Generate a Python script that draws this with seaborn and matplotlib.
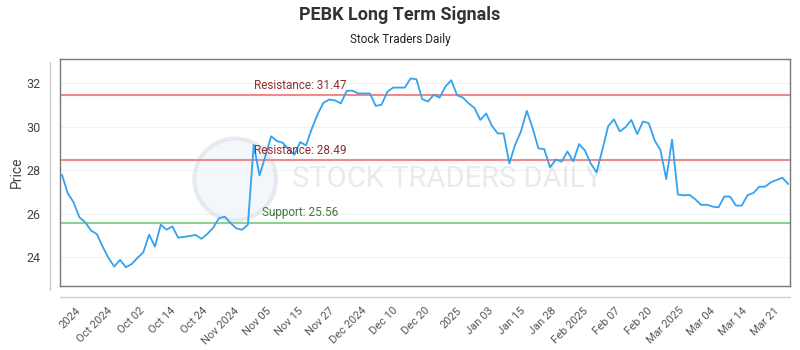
import numpy as np
import pandas as pd
import matplotlib
matplotlib.use("Agg")
import matplotlib.pyplot as plt
import seaborn as sns
from matplotlib.lines import Line2D
from matplotlib.patches import Ellipse

title = "PEBK Long Term Signals"
subtitle = "Stock Traders Daily"

prices = [
    27.80, 26.94, 26.53, 25.84, 25.61, 25.23, 25.07, 24.49, 23.97, 23.57,
    23.88, 23.54, 23.69, 23.97, 24.23, 25.04, 24.49, 25.50, 25.27, 25.42,
    24.90, 24.94, 24.98, 25.03, 24.85, 25.07, 25.35, 25.79, 25.87, 25.58,
    25.33, 25.27, 25.50, 29.18, 27.77, 28.65, 29.57, 29.35, 29.27, 28.98,
    28.72, 29.30, 29.15, 29.92, 30.59, 31.11, 31.26, 31.22, 31.08, 31.66,
    31.67, 31.54, 31.54, 31.54, 30.97, 31.02, 31.62, 31.81, 31.81, 31.81,
    32.23, 32.20, 31.28, 31.17, 31.48, 31.35, 31.86, 32.15, 31.46, 31.35,
    31.08, 30.87, 30.32, 30.62, 30.05, 29.70, 29.70, 28.32, 29.18, 29.80,
    30.74, 29.95, 29.01, 28.98, 28.14, 28.50, 28.40, 28.87, 28.41, 29.21,
    28.92, 28.32, 27.91, 28.94, 30.03, 30.35, 29.79, 29.99, 30.32, 29.67,
    30.25, 30.17, 29.38, 28.94, 27.60, 29.41, 26.89, 26.85, 26.87, 26.67,
    26.41, 26.42, 26.33, 26.30, 26.80, 26.79, 26.38, 26.38, 26.86, 26.96,
    27.25, 27.25, 27.45, 27.56, 27.66, 27.37,
]

tick_labels = [
    "2024", "Oct 2024", "Oct 02", "Oct 14", "Oct 24", "Nov 2024", "Nov 05",
    "Nov 15", "Nov 27", "Dec 2024", "Dec 10", "Dec 20", "2025", "Jan 03",
    "Jan 15", "Jan 28", "Feb 2025", "Feb 07", "Feb 20", "Mar 2025", "Mar 04",
    "Mar 14", "Mar 21",
]

resistance_levels = [31.47, 28.49]
support_levels = [25.56]
y_ticks = [24, 26, 28, 30, 32]

df = pd.DataFrame({"idx": np.arange(len(prices)), "price": prices})

sns.set_theme(style="white")
plt.rcParams["font.family"] = ["Roboto", "DejaVu Sans"]

fig = plt.figure(figsize=(8, 3.5), dpi=100)
ax = fig.add_axes([0.075, 0.183, 0.9125, 0.648])

# gridlines
for yt in y_ticks:
    ax.axhline(yt, color="#f2f2f2", lw=0.8, zorder=0)

# watermark
ax.text(0.53, 0.47, "STOCK TRADERS DAILY", transform=ax.transAxes,
        ha="center", va="center", fontsize=21,
        color="#dde3ea", alpha=0.7, zorder=0.5)
wm = Ellipse((0.24, 0.47), 0.112, 0.36, transform=ax.transAxes,
             facecolor="#eef2f6", edgecolor="#d8e0e9", lw=3, alpha=0.6, zorder=0.5)
ax.add_patch(wm)

for lvl in resistance_levels:
    ax.axhline(lvl, color="#f08a8a", lw=1.5, zorder=1)
    ax.annotate(f"Resistance: {lvl:.2f}", xy=(33, lvl), xytext=(0, 2),
                textcoords="offset points", ha="left", va="bottom",
                fontsize=8.5, color="#8e3030", zorder=3)
for lvl in support_levels:
    ax.axhline(lvl, color="#8fcf8f", lw=1.5, zorder=1)
    ax.annotate(f"Support: {lvl:.2f}", xy=(34.4, lvl), xytext=(0, 3),
                textcoords="offset points", ha="left", va="bottom",
                fontsize=8.5, color="#3e7a3e", zorder=3)

sns.lineplot(data=df, x="idx", y="price", ax=ax, color="#34a2ee", lw=1.3, zorder=2)

ax.set_xlim(-0.34, 125.3)
ax.set_ylim(22.68, 33.12)
ax.set_yticks(y_ticks)
ax.set_yticklabels([str(v) for v in y_ticks], fontsize=9, color="#444444")
tick_pos = np.linspace(2.3, 122.5, len(tick_labels))
ax.set_xticks(tick_pos)
ax.set_xticklabels(tick_labels, rotation=45, ha="right", va="top",
                   rotation_mode="anchor", fontsize=8, color="#555555")
ax.tick_params(axis="x", pad=14, length=0)
ax.tick_params(axis="y", pad=14, length=0)
ax.set_xlabel("")
ax.set_ylabel("Price", fontsize=10, color="#444444", labelpad=2)

for s in ax.spines.values():
    s.set_visible(True)
    s.set_color("#777777")
    s.set_linewidth(1.0)

# offset axis lines
fig.add_artist(Line2D([50/800, 50/800], [1-62/350, 1-290/350],
                      transform=fig.transFigure, color="#cccccc", lw=1))
fig.add_artist(Line2D([60/800, 790/800], [1-297/350, 1-297/350],
                      transform=fig.transFigure, color="#cccccc", lw=1))

fig.text(0.5, 1-15/350, title, ha="center", va="center", fontsize=13,
         fontweight="bold", color="#333333")
fig.text(0.5, 1-40/350, subtitle, ha="center", va="center", fontsize=8.5,
         color="#222222")

fig.savefig("out.png", dpi=100)
